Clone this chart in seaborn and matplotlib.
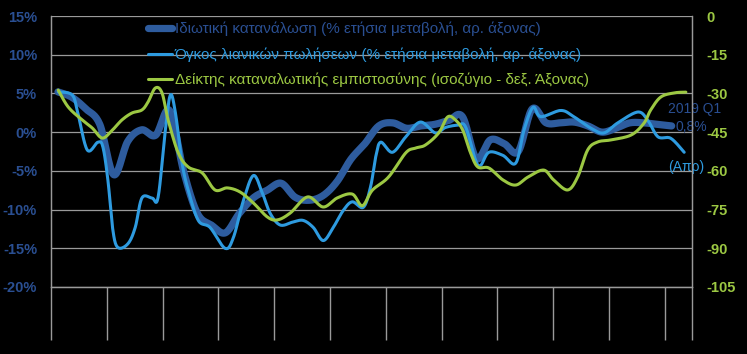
import numpy as np
import pandas as pd
import matplotlib
matplotlib.use("Agg")
import matplotlib.pyplot as plt
import seaborn as sns

# ---------------- data ----------------
# Private consumption, % y/y, quarterly 2008Q1 .. 2019Q1
cons_values = [5.2, 4.5, 3.0, 1.0, -5.5, -1.2, 0.3, -0.4, 2.8, -5.0,
               -10.5, -12.0, -13.0, -10.5, -8.5, -7.5, -6.6, -8.4, -8.8, -8.2,
               -6.4, -3.5, -1.5, 0.8, 1.2, 0.5, 0.8, 1.0, 1.5, 2.0,
               -3.4, -1.0, -1.5, -2.5, 3.0, 1.2, 1.2, 1.3, 0.8, 0.0,
               0.5, 1.2, 1.2, 1.0, 0.8]
cons_start_year = 2008  # first quarter = 2008 Q1

# Retail sales volume, % y/y (decimal year, value)
retail_t = [2008.13, 2008.38, 2008.48, 2008.65, 2008.84, 2008.93, 2009.02, 2009.11,
            2009.20, 2009.38, 2009.51, 2009.63, 2009.81, 2009.92, 2010.05, 2010.14,
            2010.23, 2010.35, 2010.46, 2010.64, 2010.85, 2011.12, 2011.27, 2011.45,
            2011.63, 2011.79, 2011.93, 2012.11, 2012.34, 2012.52, 2012.70, 2012.88,
            2013.06, 2013.24, 2013.40, 2013.60, 2013.73, 2013.82, 2013.91, 2014.12,
            2014.36, 2014.62, 2014.89, 2015.07, 2015.29, 2015.43, 2015.61, 2015.70,
            2015.85, 2016.10, 2016.33, 2016.48, 2016.64, 2016.78, 2017.14, 2017.37,
            2017.68, 2017.91, 2018.16, 2018.52, 2018.70, 2018.88, 2019.11, 2019.35]
retail_v = [5.2, 4.8, 2.5, -2.3, -1.3, -1.9, -6.2, -12.7,
            -14.9, -14.4, -12.3, -8.5, -8.5, -8.4, 0.3, 4.8,
            2.5, -4.0, -7.5, -11.4, -12.3, -15.0, -13.6, -8.8,
            -5.6, -7.9, -10.5, -12.0, -11.6, -11.4, -12.3, -14.0,
            -12.3, -10.1, -9.0, -9.7, -7.0, -3.2, -1.3, -2.6,
            -0.6, 1.3, -0.1, 0.6, 0.9, 0.7, -3.6, -4.3,
            -2.6, -3.0, -4.0, 0.3, 3.2, 2.0, 2.8, 2.0,
            0.5, -0.1, 1.2, 2.6, 1.5, -0.6, -0.8, -2.6]

# Consumer confidence indicator, balance (right axis)
conf_t = [2008.13, 2008.31, 2008.56, 2008.74, 2008.92, 2009.10, 2009.27, 2009.45,
          2009.63, 2009.74, 2009.87, 2009.99, 2010.10, 2010.28, 2010.46, 2010.71,
          2010.94, 2011.16, 2011.39, 2011.63, 2011.88, 2012.06, 2012.29, 2012.60,
          2012.88, 2013.13, 2013.40, 2013.58, 2013.76, 2014.05, 2014.36, 2014.53,
          2014.71, 2014.95, 2015.11, 2015.25, 2015.38, 2015.52, 2015.65, 2015.85,
          2016.10, 2016.33, 2016.55, 2016.83, 2017.01, 2017.26, 2017.44, 2017.62,
          2017.80, 2018.04, 2018.40, 2018.63, 2018.75, 2018.93, 2019.17, 2019.38]
conf_v = [-28.7, -35.3, -40.3, -43.4, -47.3, -44.2, -40.3, -37.6,
          -36.4, -33.3, -27.9, -29.8, -40.3, -53.0, -58.5, -60.8,
          -67.4, -66.6, -68.2, -72.5, -77.9, -79.0, -76.3, -70.1,
          -74.0, -70.5, -69.0, -73.5, -67.5, -62.4, -53.0, -51.2,
          -50.0, -45.3, -39.1, -40.3, -44.2, -53.0, -58.5, -58.9,
          -63.5, -65.5, -62.4, -59.7, -63.5, -67.4, -62.4, -51.9,
          -48.8, -48.0, -46.1, -41.5, -36.4, -31.4, -29.8, -29.5]

left_ticks = [15, 10, 5, 0, -5, -10, -15, -20]
right_ticks = [0, -15, -30, -45, -60, -75, -90, -105]
year_ticks = list(range(2008, 2020))

labels = ["Ιδιωτική κατανάλωση (% ετήσια μεταβολή, αρ. άξονας)",
          "Όγκος λιανικών πωλήσεων (% ετήσια μεταβολή, αρ. άξονας)",
          "Δείκτης καταναλωτικής εμπιστοσύνης (ισοζύγιο - δεξ. Άξονας)"]

# ---------------- style ----------------
C_DARK = "#2E5C9E"
C_BLUE = "#2E9BE0"
C_GREEN = "#9CC843"
C_DARK_TXT = "#2A4F92"
C_GRID = "#9A9A9A"

sns.set_style("dark", {"axes.facecolor": "black", "figure.facecolor": "black"})
plt.rcParams["font.family"] = ["Liberation Sans", "DejaVu Sans"]


def smooth(x, y, n=16):
    """Catmull-Rom rendering of a polyline (Excel-like smoothed line)."""
    P = np.column_stack([np.asarray(x, float), np.asarray(y, float)])
    P = np.vstack([P[0], P, P[-1]])
    out = []
    ts = np.linspace(0, 1, n, endpoint=False)[:, None]
    for i in range(1, len(P) - 2):
        p0, p1, p2, p3 = P[i - 1], P[i], P[i + 1], P[i + 2]
        seg = 0.5 * ((2 * p1) + (-p0 + p2) * ts
                     + (2 * p0 - 5 * p1 + 4 * p2 - p3) * ts ** 2
                     + (-p0 + 3 * p1 - 3 * p2 + p3) * ts ** 3)
        out.append(seg)
    out.append(P[-2][None, :])
    out = np.vstack(out)
    return out[:, 0], out[:, 1]


cons_t = cons_start_year + 0.125 + 0.25 * np.arange(len(cons_values))

fig = plt.figure(figsize=(7.47, 3.54), dpi=100)
fig.patch.set_facecolor("black")
ax = fig.add_axes([51 / 747, 1 - 287 / 354, (692 - 51) / 747, (287 - 16) / 354])
ax.set_facecolor("black")

xs, ys = smooth(cons_t, cons_values)
sns.lineplot(x=xs, y=ys, ax=ax, color=C_DARK, linewidth=5.2, sort=False,
             estimator=None, label=labels[0], solid_capstyle="round")
xs, ys = smooth(retail_t, retail_v)
sns.lineplot(x=xs, y=ys, ax=ax, color=C_BLUE, linewidth=2.2, sort=False,
             estimator=None, label=labels[1])

ax2 = ax.twinx()
xs, ys = smooth(conf_t, conf_v)
sns.lineplot(x=xs, y=ys, ax=ax2, color=C_GREEN, linewidth=2.2, sort=False,
             estimator=None, label=labels[2])

ax.set_xlim(2008, 2019.49)
ax.set_ylim(-20, 15)
ax2.set_ylim(-105, 0)

ax.set_yticks(left_ticks)
ax.set_yticklabels([f"{v}%" for v in left_ticks])
ax2.set_yticks(right_ticks)
ax2.set_yticklabels([str(v) for v in right_ticks])

ax.grid(False)
ax2.grid(False)
for v in left_ticks:
    ax.axhline(v, color=C_GRID, linewidth=0.9, zorder=0)

ax.set_xticks(year_ticks + [2019.49])
ax.set_xticklabels([])
ax.tick_params(axis="x", bottom=True, length=38, width=1.0, color=C_GRID,
               direction="out")
ax.tick_params(axis="y", left=False, length=0, pad=10, labelcolor=C_DARK_TXT,
               labelsize=10.5)
ax2.tick_params(axis="y", right=False, length=0, pad=10, labelcolor=C_GREEN,
                labelsize=10.5)
ax2.tick_params(axis="x", bottom=False, length=0)
for lab in ax.get_yticklabels():
    lab.set_fontweight("bold")
for lab in ax2.get_yticklabels():
    lab.set_fontweight("bold")

for a in (ax, ax2):
    for s in a.spines.values():
        s.set_color(C_GRID)
        s.set_linewidth(0.9)
    a.spines["top"].set_visible(False)
ax.set_xlabel("")
ax.set_ylabel("")
ax2.set_ylabel("")

# legend
h1, l1 = ax.get_legend_handles_labels()
h2, l2 = ax2.get_legend_handles_labels()
if ax.get_legend():
    ax.get_legend().remove()
if ax2.get_legend():
    ax2.get_legend().remove()
leg = ax2.legend(h1 + h2, l1 + l2, loc="upper left",
                 bbox_to_anchor=(0.137, 1.012), frameon=False,
                 fontsize=11, handlelength=1.6, handletextpad=0.15,
                 labelspacing=0.72, borderaxespad=0.2)
for txt, col in zip(leg.get_texts(), [C_DARK_TXT, C_BLUE, C_GREEN]):
    txt.set_color(col)

# annotations
ax.text(2019.06, 2.97, "2019 Q1", color=C_DARK_TXT, fontsize=10, ha="left",
        va="center", clip_on=False)
ax.text(2019.20, 0.65, "0,8%", color=C_DARK_TXT, fontsize=10, ha="left",
        va="center", clip_on=False)
ax.text(2019.06, -4.52, "(Απρ)", color=C_BLUE, fontsize=10, ha="left",
        va="center", clip_on=False)

fig.savefig("out.png", dpi=100, facecolor="black")
